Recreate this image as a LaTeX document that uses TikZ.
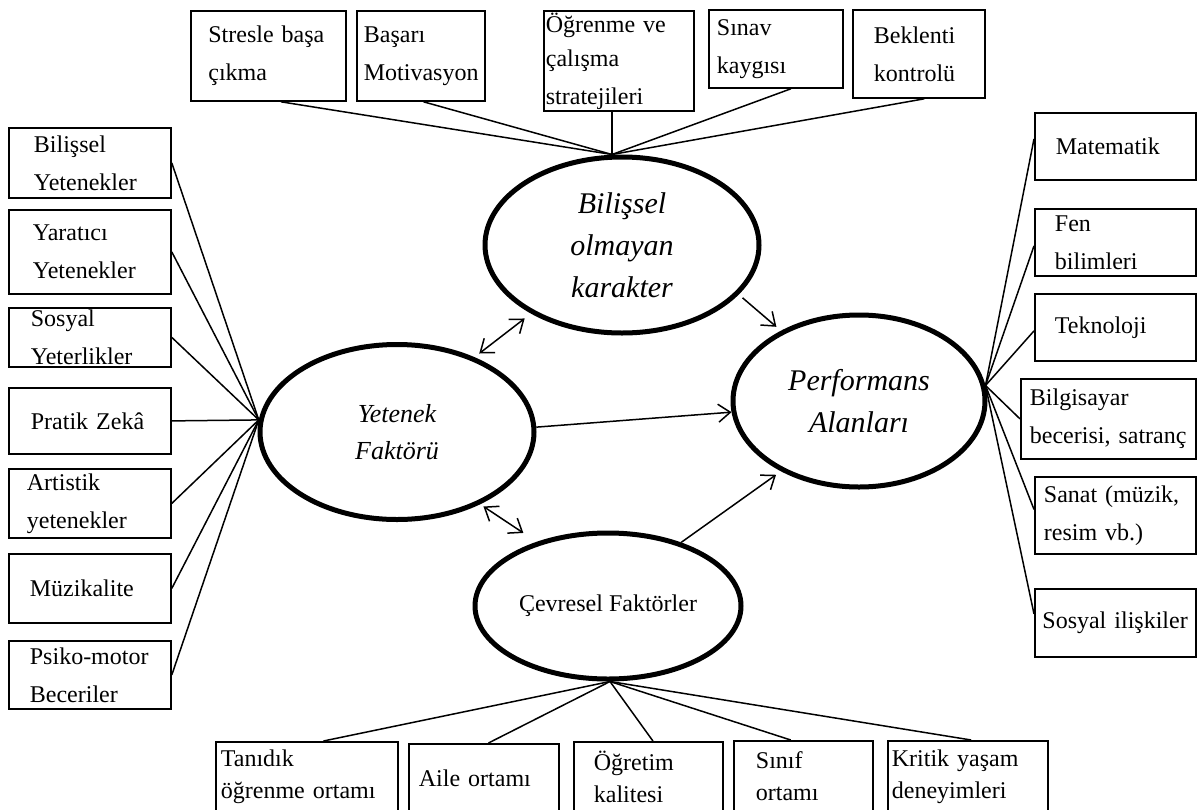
\documentclass[tikz,border=0pt]{standalone}
\usepackage{fontspec}
\setmainfont{Liberation Serif}
\usetikzlibrary{arrows.meta,calc,shapes.geometric}
\newcommand\mybox[8]{%
  \node[tbox, minimum width=#4, minimum height=#5, inner xsep=#6, text width=#7] (#1) at (#2,#3) {#8};}
\tikzset{
  tbox/.style={draw, line width=0.9pt, anchor=north west, align=left, inner ysep=0pt,
    font=\fontsize{12}{19}\selectfont},
  bbox/.style={tbox, font=\fontsize{12}{16}\selectfont},
  oval/.style={draw, ellipse, line width=2.5pt, inner sep=0pt, align=center},
  conn/.style={line width=0.75pt},
  arr/.style={line width=0.75pt, -{Straight Barb[length=6pt,width=9pt,line width=0.75pt]}},
  darr/.style={line width=0.75pt, {Straight Barb[length=6pt,width=9pt,line width=0.75pt]}-{Straight Barb[length=6pt,width=9pt,line width=0.75pt]}},
}
\begin{document}
\begin{tikzpicture}[x=0.5pt,y=-0.5pt]
\useasboundingbox (0,0) rectangle (1200,809);
% ellipses
\node[oval, minimum width=137pt, minimum height=88pt, font=\itshape\fontsize{15}{21}\selectfont] (bil) at (622,245) {Bilişsel\\olmayan\\karakter};
\node[oval, minimum width=137pt, minimum height=87.5pt, font=\itshape\fontsize{13}{18.5}\selectfont] (yet) at (397,432) {Yetenek\\Faktörü};
\node[oval, minimum width=126pt, minimum height=86pt, font=\itshape\fontsize{15}{21}\selectfont] (perf) at (859,401) {Performans\\Alanları};
\node[oval, minimum width=133pt, minimum height=73pt, font=\fontsize{12}{16}\selectfont] (cev) at (608,606) {Çevresel Faktörler};
% top boxes
\mybox{s1}{190}{10}{77.5pt}{45pt}{8.75pt}{60pt}{Stresle başa\\çıkma}
\mybox{s2}{356}{10}{64pt}{45pt}{3.5pt}{57pt}{Başarı\\Motivasyon}
\mybox{s3}{543}{10}{75pt}{50pt}{1pt}{73pt}{\fontsize{12}{17}\selectfont Öğrenme ve\\çalışma\\stratejileri}
\mybox{s4}{708}{9}{67pt}{39pt}{4pt}{59pt}{Sınav\\kaygısı}
\mybox{s5}{852}{9}{66pt}{44pt}{10.5pt}{45pt}{Beklenti\\kontrolü}
% left boxes
\mybox{l1}{8}{127}{81pt}{35pt}{12.5pt}{56pt}{Bilişsel\\Yetenekler}
\mybox{l2}{8}{209}{81pt}{42pt}{12pt}{57pt}{Yaratıcı\\Yetenekler}
\mybox{l3}{8}{307}{81pt}{29.5pt}{11pt}{59pt}{\fontsize{12}{16}\selectfont Sosyal\\Yeterlikler}
\mybox{l4}{8}{387}{81pt}{33pt}{11pt}{59pt}{Pratik Zekâ}
\mybox{l5}{8}{468}{81pt}{34.5pt}{9pt}{63pt}{Artistik\\yetenekler}
\mybox{l6}{8}{553}{81pt}{34.5pt}{10.5pt}{60pt}{Müzikalite}
\mybox{l7}{8}{640}{81pt}{34pt}{10.5pt}{60pt}{Psiko-motor\\Beceriler}
% right boxes
\mybox{r1}{1034}{112}{80.5pt}{33.5pt}{10.5pt}{59.5pt}{Matematik}
\mybox{r2}{1034}{208}{80.5pt}{33.5pt}{10pt}{60.5pt}{Fen\\bilimleri}
\mybox{r3}{1034}{293}{80.5pt}{33.5pt}{10pt}{60.5pt}{Teknoloji}
\mybox{r4}{1020}{378}{87.5pt}{40pt}{4.5pt}{78.5pt}{Bilgisayar\\becerisi, satranç}
\mybox{r5}{1034}{476}{80.5pt}{38.5pt}{4.5pt}{71.5pt}{Sanat (müzik,\\resim vb.)}
\mybox{r6}{1034}{588}{80.5pt}{34pt}{3.75pt}{73pt}{Sosyal ilişkiler}
% bottom boxes (cut by the lower edge)
\tikzset{tbox/.append style={font=\fontsize{12}{16}\selectfont}}
\mybox{b1}{215}{741}{91pt}{35pt}{2.5pt}{86pt}{Tanıdık\\öğrenme ortamı}
\mybox{b2}{408}{743}{75pt}{34pt}{5pt}{65pt}{Aile ortamı}
\mybox{b3}{573}{741}{74.5pt}{35pt}{10pt}{54.5pt}{Öğretim\\kalitesi}
\mybox{b4}{733}{740}{69.5pt}{35.5pt}{11pt}{47.5pt}{Sınıf\\ortamı}
\mybox{b5}{887}{740}{80pt}{35.5pt}{2pt}{76pt}{Kritik yaşam\\deneyimleri}
% convergence points
\coordinate (bt) at ([xshift=-5pt]bil.north);
\coordinate (yl) at (yet.175);
\coordinate (pr) at (perf.7);
\coordinate (cb) at ([xshift=1pt]cev.south);
% top connectors
\draw[conn] ($(s1.south west)!0.58!(s1.south east)$) -- (bt);
\draw[conn] ($(s2.south west)!0.52!(s2.south east)$) -- (bt);
\draw[conn] (s3.south -| bt) -- (bt);
\draw[conn] ($(s4.south west)!0.61!(s4.south east)$) -- (bt);
\draw[conn] ($(s5.south west)!0.54!(s5.south east)$) -- (bt);
% left connectors
\foreach \b in {l1,l2,l3,l4,l5,l6,l7} \draw[conn] (\b.east) -- (yl);
% right connectors
\draw[conn] ([yshift=3.75pt]r1.west) -- (pr);
\draw[conn] ([yshift=-1.75pt]r2.west) -- (pr);
\draw[conn] ([yshift=-1.75pt]r3.west) -- (pr);
\draw[conn] (r4.west) -- (pr);
\draw[conn] ([yshift=3pt]r5.west) -- (pr);
\draw[conn] ([yshift=4.5pt]r6.west) -- (pr);
% bottom connectors
\draw[conn] ($(b1.north west)!0.59!(b1.north east)$) -- (cb);
\draw[conn] ($(b2.north west)!0.53!(b2.north east)$) -- (cb);
\draw[conn] ($(b3.north west)!0.53!(b3.north east)$) -- (cb);
\draw[conn] ($(b4.north west)!0.41!(b4.north east)$) -- (cb);
\draw[conn] ($(b5.north west)!0.52!(b5.north east)$) -- (cb);
% arrows between ellipses
\draw[darr, shorten <=3pt, shorten >=4pt] (yet.44.6) -- (bil.217.5);
\draw[arr, shorten <=2.5pt, shorten >=3pt] (bil.337.4) -- (perf.138);
\draw[arr] (yet.2) -- (perf.185.9);
\draw[darr, shorten <=2pt, shorten >=8pt] (yet.319.7) -- (cev.138);
\draw[arr, shorten >=3pt] (cev.41.6) -- (perf.222.8);
\end{tikzpicture}
\end{document}
